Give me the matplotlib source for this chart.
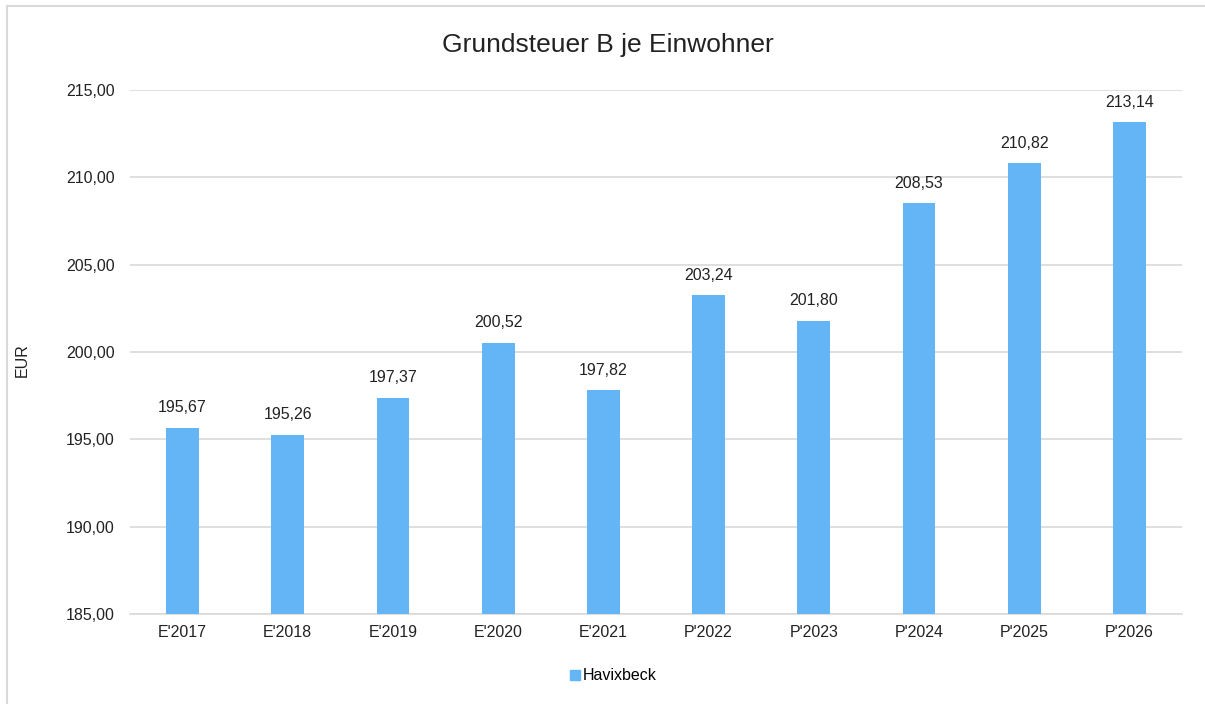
import matplotlib
matplotlib.use("Agg")
import matplotlib.pyplot as plt
from matplotlib.lines import Line2D

plt.rcParams['font.family'] = ['Liberation Sans', 'DejaVu Sans']

categories = ["E'2017", "E'2018", "E'2019", "E'2020", "E'2021",
              "P'2022", "P'2023", "P'2024", "P'2025", "P'2026"]
values = [195.67, 195.26, 197.37, 200.52, 197.82,
          203.24, 201.80, 208.53, 210.82, 213.14]
series_name = "Havixbeck"
title = "Grundsteuer B je Einwohner"
ylabel = "EUR"
yticks = [185, 190, 195, 200, 205, 210, 215]

bar_color = "#64B5F6"
grid_color = "#d9d9d9"
text_color = "#222222"
fs = 11.5

fig = plt.figure(figsize=(12.05, 7.04), dpi=100)
ax = fig.add_axes([130/1205, 1-614/704, (1182-130)/1205, (614-90)/704])

x = list(range(len(categories)))
ax.bar(x, [v - 185 for v in values], bottom=185, width=0.31,
       color=bar_color, label=series_name, zorder=3)
ax.set_xlim(-0.5, len(categories) - 0.5)
ax.set_ylim(185, 215)
ax.set_yticks(yticks)
ax.set_yticklabels([f"{t:.2f}".replace('.', ',') for t in yticks], fontsize=fs, color=text_color)
ax.set_xticks(x)
ax.set_xticklabels(categories, fontsize=fs, color=text_color)
ax.tick_params(axis='x', length=0, pad=8)
ax.tick_params(axis='y', length=0, pad=11)
ax.grid(axis='y', color=grid_color, linewidth=1.2, zorder=0)
for s in ['top', 'right', 'left']:
    ax.spines[s].set_visible(False)
ax.spines['bottom'].set_color(grid_color)
ax.spines['bottom'].set_linewidth(1.2)

for xi, v in zip(x, values):
    ax.annotate(f"{v:.2f}".replace('.', ','), (xi, v), xytext=(0, 9),
                textcoords='offset points', ha='center', va='bottom',
                fontsize=fs, color=text_color)

ax.set_ylabel(ylabel, fontsize=fs, color=text_color)
ax.yaxis.set_label_coords((22 - 130) / 1052, 0.485)
ax.yaxis.label.set_verticalalignment('center')

fig.text(608/1205, 1-45/704, title, ha='center', va='center', fontsize=19, color=text_color)

handle = Line2D([], [], marker='s', linestyle='none', markersize=7,
                markerfacecolor=bar_color, markeredgecolor=bar_color)
fig.legend([handle], [series_name], loc='center', bbox_to_anchor=(612/1205, 1-676/704),
           frameon=False, fontsize=fs, handletextpad=0.0, handlelength=1.0)

# outer border (left and top)
fig.add_artist(Line2D([7/1205, 7/1205], [0, 1-6/704], transform=fig.transFigure,
                      color=grid_color, linewidth=1.5))
fig.add_artist(Line2D([7/1205, 1], [1-6/704, 1-6/704], transform=fig.transFigure,
                      color=grid_color, linewidth=1.5))

fig.savefig("out.png", dpi=100)
